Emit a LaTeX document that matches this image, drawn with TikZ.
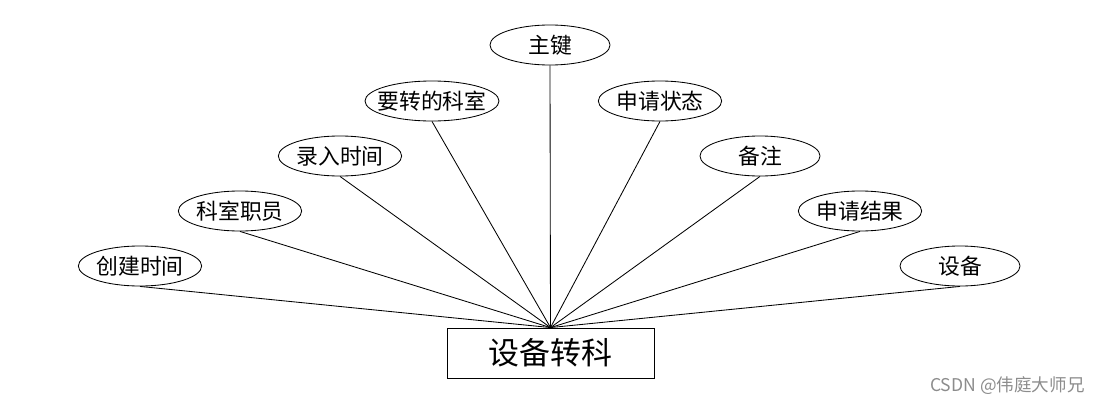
\documentclass[tikz,border=0pt]{standalone}
\usepackage{fontspec}
\newfontfamily\cjk{Noto Sans CJK SC}
\usetikzlibrary{shapes.geometric}
\tikzset{every picture/.style={line width=0.6pt}}

\begin{document}
\begin{tikzpicture}[x=0.025cm, y=-0.025cm,
    attr/.style={draw, ellipse, minimum width=3cm, minimum height=1cm, inner sep=0pt, font=\cjk\fontsize{15.5}{15.5}\selectfont},
    entity/.style={draw, rectangle, minimum width=5.175cm, minimum height=1.25cm, inner sep=0pt, font=\cjk\fontsize{22}{22}\selectfont}]
    \useasboundingbox (0,0) rectangle (1100,408);
    % entity
    \node[entity] (sbzk) at (550.5,353) {设备转科};
    % attributes, left to right
    \node[attr] (cjsj) at (140,266) {创建时间};
    \node[attr] (ksjy) at (240,211) {科室职员};
    \node[attr] (lrsj) at (340,156) {录入时间};
    \node[attr, minimum width=3.35cm, inner xsep=-1.8mm] (yzks) at (432,101) {要转的科室};
    \node[attr] (zj) at (550,45) {主键};
    \node[attr] (sqzt) at (660,101) {申请状态};
    \node[attr] (bz) at (760,156) {备注};
    \node[attr] (sqjg) at (860,211) {申请结果};
    \node[attr] (sb) at (960,266) {设备};
    % connectors
    \foreach \a in {cjsj,ksjy,lrsj,yzks,zj,sqzt,bz,sqjg,sb}
        \draw (\a.south) -- (sbzk.north);
    % watermark
    \node[text=black!45, font=\cjk\fontsize{12.5}{12.5}\selectfont, anchor=east, inner sep=0pt] (wm) at (1085,386) {CSDN @伟庭大师兄};
\end{tikzpicture}
\end{document}
